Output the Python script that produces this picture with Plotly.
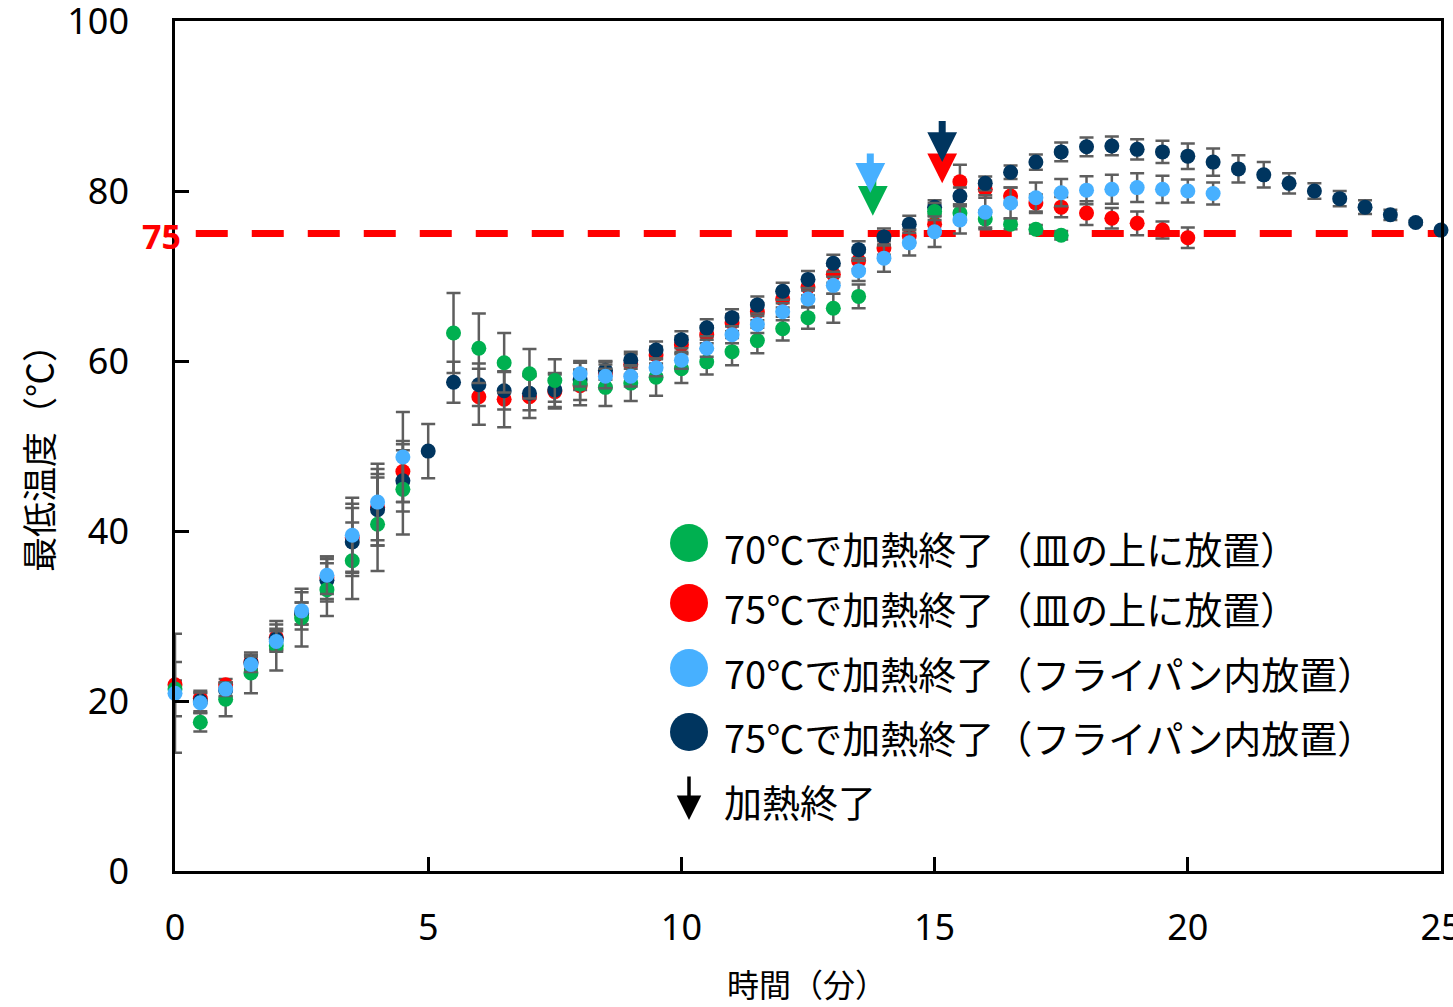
import plotly.graph_objects as go

# ---------------- data ----------------
time_min = [0, 0.5, 1, 1.5, 2, 2.5, 3, 3.5, 4, 4.5,
            5, 5.5, 6, 6.5, 7, 7.5, 8, 8.5, 9, 9.5,
            10, 10.5, 11, 11.5, 12, 12.5, 13, 13.5, 14, 14.5,
            15, 15.5, 16, 16.5, 17, 17.5, 18, 18.5, 19, 19.5,
            20, 20.5, 21, 21.5, 22, 22.5, 23, 23.5, 24, 24.5, 25]

green_70_dish = [21.4, 17.5, 20.2, 23.3, 26.5, 29.8, 33.1, 36.5, 40.8, 44.9,
                 None, 63.3, 61.5, 59.8, 58.5, 57.7, 57.3, 56.9, 57.4, 58.1,
                 59.1, 59.9, 61.1, 62.4, 63.8, 65.1, 66.2, 67.6, None, None,
                 77.6, 77.4, 76.7, 76.1, 75.5, 74.8] + [None] * 15
green_70_dish_err = [3.2, 1.1, 2.0, 2.4, 2.9, 3.4, 3.1, 4.5, 5.5, 5.3,
                     0, 4.7, 4.1, 3.5, 2.9, 2.5, 2.5, 2.2, 2.1, 2.2,
                     1.7, 1.5, 1.6, 1.5, 1.4, 1.3, 1.7, 1.4, 0, 0,
                     1.0, 1.0, 1.0, 0.6, 0.5, 0.5] + [0] * 15

red_75_dish = [21.9, 20.3, 21.9, 24.6, 27.5, 30.3, 34.5, 39.2, 42.8, 47.0,
               None, None, 55.8, 55.5, 55.8, 56.4, 57.1, 58.5, 59.6, 60.7,
               61.9, 63.1, 64.5, 65.8, 67.3, 68.7, 70.2, 71.8, 73.3, 74.7,
               76.1, 81.1, 80.2, 79.4, 78.6, 78.1, 77.4, 76.8, 76.2, 75.4,
               74.5] + [None] * 10
red_75_dish_err = [0.5, 0.6, 0.7, 0.8, 1.5, 1.3, 2.5, 4.0, 4.5, 3.6,
                   0, 0, 3.3, 3.3, 2.5, 2.0, 1.7, 1.4, 1.2, 1.0,
                   1.0, 1.0, 1.0, 1.0, 1.0, 1.0, 1.0, 1.0, 0.8, 0.8,
                   1.0, 2.0, 1.0, 1.0, 1.0, 1.2, 1.4, 1.2, 1.4, 1.0,
                   1.2] + [0] * 10

lblue_70_pan = [20.9, 19.8, 21.4, 24.3, 27.0, 30.6, 34.8, 39.5, 43.4, 48.7,
                None, None, None, None, None, None, 58.5, 58.2, 58.2, 59.2,
                60.1, 61.5, 63.1, 64.3, 65.8, 67.3, 68.9, 70.6, 72.1, 73.9,
                75.2, 76.6, 77.5, 78.6, 79.2, 79.8, 80.1, 80.2, 80.4, 80.2,
                80.0, 79.7] + [None] * 9
lblue_70_pan_err = [7.0, 1.2, 0.8, 0.9, 1.2, 2.2, 2.2, 4.4, 4.5, 5.3,
                    0, 0, 0, 0, 0, 0, 1.5, 1.4, 1.2, 1.0,
                    1.0, 1.0, 1.0, 1.0, 1.0, 1.0, 1.0, 1.2, 1.6, 1.5,
                    1.8, 1.6, 2.0, 1.8, 1.8, 1.6, 1.65, 1.7, 1.7, 1.6,
                    1.35, 1.3] + [0] * 9

navy_75_pan = [None, 20.0, 21.3, 24.5, 27.3, 30.3, 34.2, 38.7, 42.5, 45.9,
               49.4, 57.5, 57.2, 56.5, 56.2, 56.6, 57.8, 58.9, 60.1, 61.3,
               62.5, 63.9, 65.1, 66.6, 68.2, 69.6, 71.5, 73.1, 74.6, 76.1,
               78.1, 79.4, 80.9, 82.2, 83.4, 84.6, 85.2, 85.3, 84.9, 84.6,
               84.1, 83.4, 82.6, 81.9, 80.9, 80.0, 79.1, 78.1, 77.2, 76.3,
               75.4]
navy_75_pan_err = [0, 1.2, 0.8, 0.9, 1.2, 1.3, 2.5, 4.0, 4.2, 3.6,
                   3.2, 2.4, 2.5, 2.2, 2.0, 2.0, 1.2, 1.1, 1.0, 1.0,
                   1.0, 1.0, 1.0, 1.0, 1.0, 1.0, 1.0, 1.0, 1.0, 1.0,
                   0.8, 1.0, 0.8, 0.8, 0.9, 1.1, 1.1, 1.1, 1.2, 1.3,
                   1.5, 1.6, 1.6, 1.5, 1.2, 0.9, 0.9, 0.8, 0.6, 0.3,
                   0]

legend_labels = ["70℃で加熱終了（皿の上に放置）",
                 "75℃で加熱終了（皿の上に放置）",
                 "70℃で加熱終了（フライパン内放置）",
                 "75℃で加熱終了（フライパン内放置）"]
arrow_label = "加熱終了"

# heating-stop markers: (time, arrow tail temp, arrow tip temp)
stop_70_dish = (13.78, 82.2, 77.1)
stop_70_pan = (13.73, 84.6, 79.8)
stop_75_dish = (15.15, 85.0, 80.9)
stop_75_pan = (15.15, 88.4, 83.4)

threshold = 75
x_ticks = [0, 5, 10, 15, 20, 25]
y_ticks = [0, 20, 40, 60, 80, 100]

# ---------------- style ----------------
C_GREEN = "#00B050"
C_RED = "#FF0000"
C_LBLUE = "#47B0FF"
C_NAVY = "#00355F"
ERR_COLOR = "#5E5E5E"
JP_FONT = "Noto Sans CJK JP"
NUM_FONT = "Noto Sans"

W, H = 1453, 1007
ML, MR, MT, MB = 175, 12, 21, 136
PW = W - ML - MR
PH = H - MT - MB


def px_to_paper_x(px):
    return (px - ML) / PW


def px_to_paper_y(py):
    return (H - MB - py) / PH


fig = go.Figure()

series = [
    (red_75_dish, red_75_dish_err, C_RED, legend_labels[1]),
    (navy_75_pan, navy_75_pan_err, C_NAVY, legend_labels[3]),
    (green_70_dish, green_70_dish_err, C_GREEN, legend_labels[0]),
    (lblue_70_pan, lblue_70_pan_err, C_LBLUE, legend_labels[2]),
]
for vals, errs, col, name in series:
    fig.add_trace(go.Scatter(
        x=time_min, y=vals, mode="markers", name=name,
        marker=dict(size=15, color=col),
        error_y=dict(type="data", array=errs, visible=True,
                     color=ERR_COLOR, thickness=2.5, width=7),
        showlegend=False, cliponaxis=False,
    ))

shapes = []
# 75 °C dashed reference line
shapes.append(dict(type="line", xref="x", yref="y",
                   x0=0.41, x1=25, y0=threshold, y1=threshold,
                   line=dict(color=C_RED, width=7, dash="32px,24px"),
                   layer="below"))

annotations = []
# "75" label
annotations.append(dict(xref="paper", yref="y", x=px_to_paper_x(161), y=threshold,
                        text="<b>75</b>", showarrow=False, xanchor="center",
                        yanchor="middle", yshift=-2,
                        font=dict(family=NUM_FONT, size=34, color=C_RED)))

# heating-stop arrows (drawn back to front)
for (t, tail, tip), col in [(stop_70_dish, C_GREEN), (stop_70_pan, C_LBLUE),
                            (stop_75_dish, C_RED), (stop_75_pan, C_NAVY)]:
    annotations.append(dict(xref="x", yref="y", axref="x", ayref="y",
                            x=t, y=tip, ax=t, ay=tail, text="",
                            showarrow=True, arrowhead=2, arrowsize=0.85,
                            arrowwidth=7, arrowcolor=col, standoff=0,
                            startstandoff=0))

# custom legend
legend_rows_px = [543, 603, 668, 732]
legend_colors = [C_GREEN, C_RED, C_LBLUE, C_NAVY]
for ypx, col, lab in zip(legend_rows_px, legend_colors, legend_labels):
    shapes.append(dict(type="circle", xref="paper", yref="paper",
                       xsizemode="pixel", ysizemode="pixel",
                       xanchor=px_to_paper_x(689), yanchor=px_to_paper_y(ypx),
                       x0=-19, x1=19, y0=-19, y1=19,
                       fillcolor=col, line=dict(width=0), layer="above"))
    annotations.append(dict(xref="paper", yref="paper",
                            x=px_to_paper_x(722), y=px_to_paper_y(ypx + 4),
                            text=lab, showarrow=False, xanchor="left",
                            yanchor="middle",
                            font=dict(family=JP_FONT, size=38, color="black")))
# legend arrow item
annotations.append(dict(xref="paper", yref="paper",
                        x=px_to_paper_x(689), y=px_to_paper_y(820),
                        ax=0, ay=-45, text="", showarrow=True, arrowhead=2,
                        arrowsize=1.4, arrowwidth=3.5, arrowcolor="black",
                        standoff=0, startstandoff=0))
annotations.append(dict(xref="paper", yref="paper",
                        x=px_to_paper_x(722), y=px_to_paper_y(800),
                        text=arrow_label, showarrow=False, xanchor="left",
                        yanchor="middle",
                        font=dict(family=JP_FONT, size=38, color="black")))

# axis titles
annotations.append(dict(xref="paper", yref="paper",
                        x=px_to_paper_x(38), y=px_to_paper_y(450),
                        text="最低温度（℃）", textangle=-90, showarrow=False,
                        xanchor="center", yanchor="middle",
                        font=dict(family=JP_FONT, size=35, color="black")))
annotations.append(dict(xref="paper", yref="paper",
                        x=px_to_paper_x(807), y=px_to_paper_y(983),
                        text="時間（分）", showarrow=False,
                        xanchor="center", yanchor="middle",
                        font=dict(family=JP_FONT, size=32, color="black")))

fig.update_layout(
    width=W, height=H,
    margin=dict(l=ML, r=MR, t=MT, b=MB, pad=0, autoexpand=False),
    paper_bgcolor="white", plot_bgcolor="white",
    shapes=shapes, annotations=annotations,
    showlegend=False,
)
fig.update_xaxes(range=[0, 25], tickvals=x_ticks, ticks="inside", ticklen=14,
                 tickwidth=2.5, tickcolor="black", showline=True,
                 linecolor="black", linewidth=2.5, mirror=True,
                 showgrid=False, zeroline=False, ticklabelstandoff=23,
                 ticklabeloverflow="allow", automargin=False,
                 tickfont=dict(family=NUM_FONT, size=36, color="black"))
fig.update_yaxes(range=[0, 100], tickvals=y_ticks, ticks="inside", ticklen=14,
                 tickwidth=2.5, tickcolor="black", showline=True,
                 linecolor="black", linewidth=2.5, mirror=True,
                 showgrid=False, zeroline=False, ticklabelstandoff=36,
                 ticklabeloverflow="allow", automargin=False,
                 tickfont=dict(family=NUM_FONT, size=36, color="black"))

fig.write_html("out.html")
